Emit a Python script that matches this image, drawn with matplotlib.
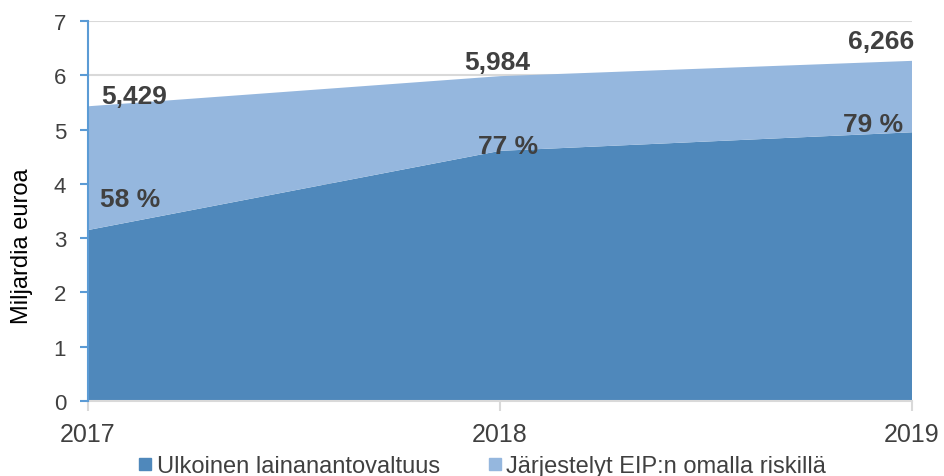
import matplotlib
matplotlib.use("Agg")
import matplotlib.pyplot as plt
from matplotlib.lines import Line2D

plt.rcParams['font.family'] = ['Liberation Sans', 'DejaVu Sans']

years = [2017, 2018, 2019]
ulkoinen = [3.149, 4.608, 4.950]
total = [5.429, 5.984, 6.266]
eip = [t - u for t, u in zip(total, ulkoinen)]
total_labels = ["5,429", "5,984", "6,266"]
pct_labels = ["58 %", "77 %", "79 %"]
series_names = ["Ulkoinen lainanantovaltuus", "Järjestelyt EIP:n omalla riskillä"]
yticks = [0, 1, 2, 3, 4, 5, 6, 7]

c_dark = "#4f88bb"
c_light = "#95b7de"
txt = "#404040"

fig = plt.figure(figsize=(9.44, 4.77), dpi=100)
ax = fig.add_axes([88/944, 1-402/477, (912-88)/944, 380/477])

ax.stackplot(years, ulkoinen, eip, colors=[c_dark, c_light], linewidth=0, zorder=2)

ax.set_xlim(years[0], years[-1])
ax.set_ylim(0, 7)
ax.set_yticks(yticks)
ax.set_xticks(years)
ax.set_xticklabels([str(y) for y in years])
ax.grid(axis='y', color='#d9d9d9', linewidth=1.5, zorder=0)
ax.set_axisbelow(True)

for s in ['top', 'right']:
    ax.spines[s].set_visible(False)
ax.spines['left'].set_color('#5b9bd5')
ax.spines['left'].set_linewidth(1.5)
ax.spines['left'].set_zorder(3)
ax.spines['bottom'].set_color('#d9d9d9')
ax.spines['bottom'].set_linewidth(1.5)

ax.tick_params(axis='y', colors='#5b9bd5', length=5.8, width=1.5, pad=10, labelsize=16, labelcolor=txt)
ax.tick_params(axis='x', colors='#d9d9d9', length=7.2, width=1.5, pad=8, labelsize=18, labelcolor=txt)

ax.set_ylabel("Miljardia euroa", fontsize=17, color='black')
ax.yaxis.set_label_coords(-(88-33)/824, 0.41)

tot_offsets = [(46, 10), (-3, 14), (-31, 20)]
pct_offsets = [(42, 31), (8, 5), (-39, 8)]
for i, y in enumerate(years):
    ax.annotate(total_labels[i], xy=(y, total[i]), xytext=tot_offsets[i],
                textcoords='offset pixels', ha='center', va='center',
                fontsize=19, fontweight='bold', color=txt, zorder=5, annotation_clip=False)
    ax.annotate(pct_labels[i], xy=(y, ulkoinen[i]), xytext=pct_offsets[i],
                textcoords='offset pixels', ha='center', va='center',
                fontsize=19, fontweight='bold', color=txt, zorder=5, annotation_clip=False)

handles = [Line2D([], [], marker='s', linestyle='none', markersize=9, color=c)
           for c in [c_dark, c_light]]
leg = fig.legend(handles, series_names, loc='center', bbox_to_anchor=(481/944, 1-467/477),
                 ncol=2, frameon=False, fontsize=17, handletextpad=0.1, columnspacing=1.9,
                 handlelength=0.8, borderpad=0, borderaxespad=0)
for t in leg.get_texts():
    t.set_color(txt)

fig.savefig("out.png", dpi=100)
